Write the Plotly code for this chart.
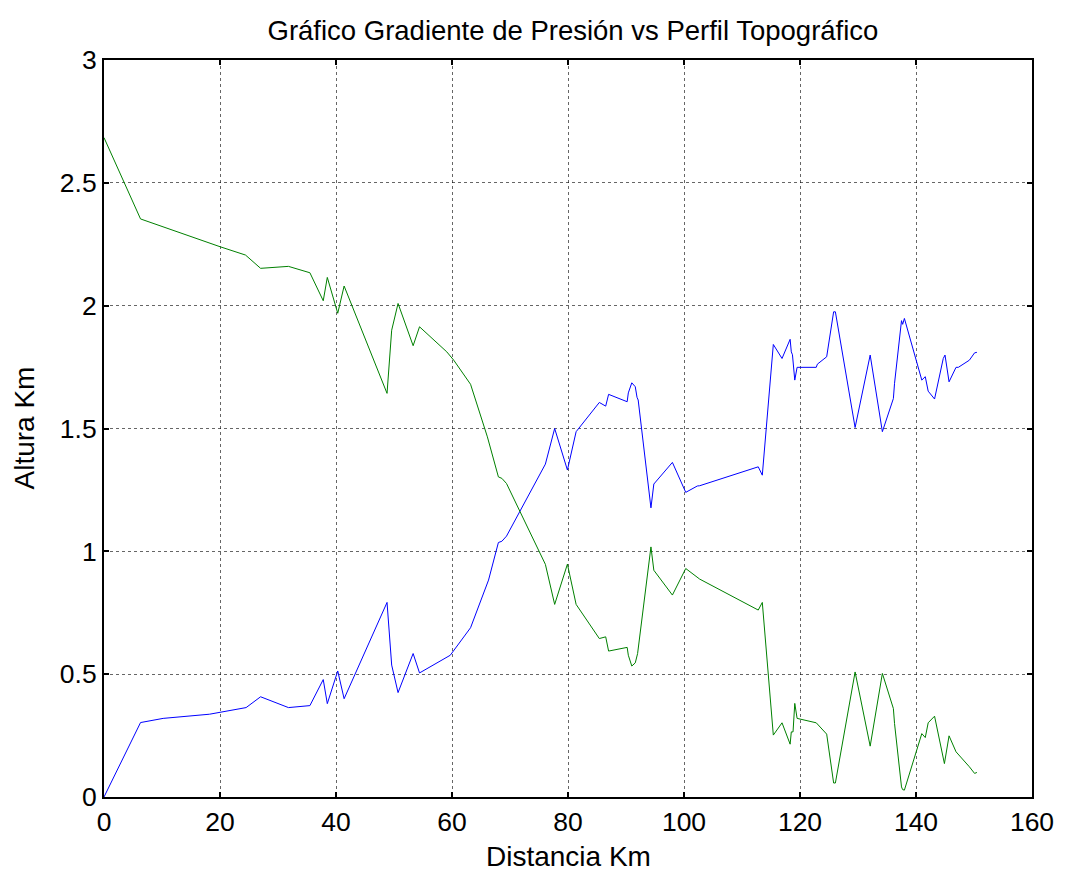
import plotly.graph_objects as go

# Perfil topográfico (azul)
perfil_x = [0, 6.3, 10.2, 18.2, 24.5, 27.0, 31.8, 35.5, 37.8, 38.5, 40.3, 41.4, 48.8, 49.6, 50.7,
            53.3, 54.4, 59.7, 63.2, 66.3, 68.0, 68.6, 69.4, 76.1, 77.7, 79.9, 81.4, 85.4, 86.5,
            87.0, 90.2, 90.4, 91.0, 91.4, 91.6, 91.9, 92.1, 94.3, 94.8, 98.0, 100.3, 102.3, 102.7,
            112.8, 113.5, 115.4, 116.9, 118.3, 118.5, 118.7, 119.1, 119.5, 122.8, 123.0, 124.6,
            125.8, 126.1, 129.5, 132.1, 134.2, 136.1, 136.3, 137.5, 137.7, 138.0, 141.0, 141.6,
            142.1, 143.2, 144.7, 145.0, 145.7, 146.9, 147.3, 149.2, 150.1, 150.5]
perfil_y = [0.0, 0.303, 0.32, 0.337, 0.364, 0.408, 0.364, 0.372, 0.478, 0.38, 0.513, 0.40, 0.792,
            0.537, 0.425, 0.584, 0.505, 0.577, 0.689, 0.883, 1.036, 1.041, 1.062, 1.355, 1.50,
            1.331, 1.487, 1.606, 1.591, 1.639, 1.609, 1.645, 1.686, 1.673, 1.67, 1.627, 1.616,
            1.177, 1.274, 1.362, 1.24, 1.266, 1.267, 1.344, 1.31, 1.842, 1.785, 1.863, 1.812,
            1.80, 1.697, 1.749, 1.749, 1.762, 1.792, 1.975, 1.975, 1.504, 1.799, 1.487, 1.622,
            1.684, 1.939, 1.924, 1.948, 1.697, 1.711, 1.652, 1.62, 1.785, 1.799, 1.69, 1.749,
            1.749, 1.778, 1.808, 1.81]

# Gradiente de presión (verde)
gradiente_x = [0, 6.3, 20.0, 24.4, 27.0, 31.8, 35.5, 37.8, 38.5, 40.3, 41.4, 48.8, 49.6, 50.7,
               53.3, 54.4, 59.1, 60.3, 63.2, 66.1, 68.0, 68.6, 69.4, 76.1, 77.7, 79.9, 81.4,
               85.4, 86.5, 87.0, 90.2, 90.4, 91.0, 91.6, 92.0, 94.3, 94.8, 98.0, 100.3, 102.7,
               112.8, 113.5, 115.4, 116.9, 118.3, 118.5, 118.8, 119.1, 119.5, 122.8, 124.6,
               125.8, 126.1, 127.4, 129.5, 132.1, 134.2, 136.1, 136.3, 137.5, 137.7, 138.0,
               141.0, 141.6, 142.1, 143.2, 144.9, 145.7, 146.9, 149.2, 150.1, 150.5]
gradiente_y = [2.684, 2.353, 2.24, 2.206, 2.152, 2.16, 2.134, 2.02, 2.115, 1.969, 2.08, 1.643,
               1.90, 2.009, 1.837, 1.914, 1.812, 1.778, 1.68, 1.466, 1.303, 1.297, 1.276, 0.947,
               0.784, 0.948, 0.784, 0.645, 0.652, 0.594, 0.609, 0.577, 0.533, 0.546, 0.584,
               1.018, 0.923, 0.822, 0.93, 0.887, 0.761, 0.792, 0.252, 0.302, 0.215, 0.265,
               0.265, 0.381, 0.32, 0.302, 0.256, 0.057, 0.057, 0.231, 0.509, 0.207, 0.503,
               0.36, 0.299, 0.041, 0.03, 0.028, 0.258, 0.242, 0.302, 0.329, 0.136, 0.249,
               0.184, 0.123, 0.096, 0.1]

x_ticks = [0, 20, 40, 60, 80, 100, 120, 140, 160]
y_ticks = [0, 0.5, 1, 1.5, 2, 2.5, 3]
y_tick_text = ["0", "0.5", "1", "1.5", "2", "2.5", "3"]

FONT = "Liberation Sans, Arial, Helvetica, sans-serif"

fig = go.Figure()
fig.add_trace(go.Scatter(x=perfil_x, y=perfil_y, mode="lines",
                         line=dict(color="#0000FF", width=1), showlegend=False))
fig.add_trace(go.Scatter(x=gradiente_x, y=gradiente_y, mode="lines",
                         line=dict(color="#008000", width=1), showlegend=False))

axis_common = dict(
    showline=True, linecolor="black", linewidth=2, mirror="ticks",
    ticks="inside", ticklen=5, tickwidth=2, tickcolor="black",
    showgrid=True, gridcolor="rgba(0,0,0,0.6)", gridwidth=1, griddash="dot",
    zeroline=False, tickfont=dict(family=FONT, size=26.5, color="black"),
)

fig.update_layout(
    width=1066, height=872,
    margin=dict(l=104, r=28, t=60, b=75),
    paper_bgcolor="white", plot_bgcolor="white",
    font=dict(family=FONT, color="black"),
    title=dict(text="Gráfico Gradiente de Presión vs Perfil Topográfico",
               x=0.5375, xanchor="center", y=1 - 30 / 872, yanchor="middle",
               yref="container", font=dict(family=FONT, size=27.5, color="black")),
    xaxis=dict(range=[0, 160], tickvals=x_ticks, **axis_common),
    yaxis=dict(range=[0, 3], tickvals=y_ticks, ticktext=y_tick_text, **axis_common),
    annotations=[
        dict(text="Distancia Km", xref="paper", yref="paper", x=0.5, y=0,
             xanchor="center", yanchor="middle", yshift=-59, showarrow=False,
             font=dict(family=FONT, size=28, color="black")),
        dict(text="Altura Km", xref="paper", yref="paper", x=0, y=0.5,
             xanchor="center", yanchor="middle", xshift=-80, textangle=-90,
             showarrow=False, font=dict(family=FONT, size=28, color="black")),
    ],
)

fig.write_html("out.html")
